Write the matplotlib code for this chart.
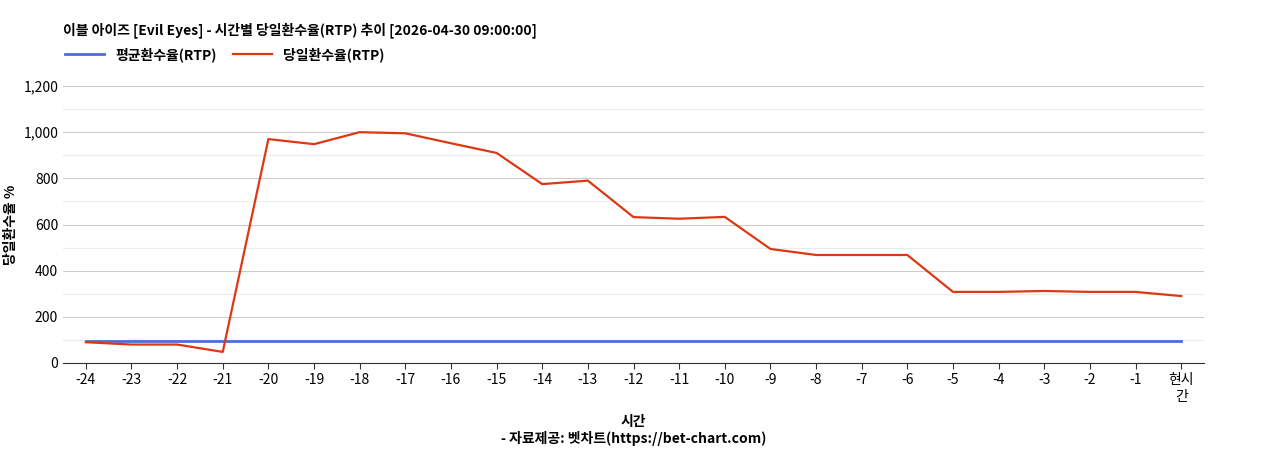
import matplotlib
matplotlib.use("Agg")
import matplotlib.pyplot as plt

plt.rcParams['font.family'] = ['Noto Sans CJK KR', 'DejaVu Sans']

labels = [str(i) for i in range(-24, 0)] + ['현시\n간']
avg_rtp = [95] * 25
daily_rtp = [90, 80, 80, 48, 970, 948, 1000, 995, 952, 910, 775, 790, 632, 625, 633,
             494, 468, 468, 468, 308, 308, 312, 308, 308, 290]

fig = plt.figure(figsize=(12.68, 4.5), dpi=100)
ax = fig.add_axes([63/1268, 1-363/450, (1204-63)/1268, (363-86)/450])
x = list(range(len(labels)))
ax.plot(x, avg_rtp, color='#4a6fd6', lw=2, label='평균환수율(RTP)')
ax.plot(x, daily_rtp, color='#dc3912', lw=1.6, label='당일환수율(RTP)')
ax.set_xlim(-0.5, len(labels)-0.5)
ax.set_ylim(0, 1200)
ax.set_yticks(range(0, 1201, 200))
ax.set_yticklabels([f'{v:,}' for v in range(0, 1201, 200)])
ax.set_yticks(range(100, 1200, 200), minor=True)
ax.grid(axis='y', which='major', color='#cccccc', lw=0.8)
ax.grid(axis='y', which='minor', color='#ebebeb', lw=0.8)
ax.set_axisbelow(True)
ax.set_xticks(x)
ax.set_xticklabels(labels, fontsize=10)
ax.tick_params(axis='y', which='both', labelsize=10, length=0)
ax.tick_params(axis='x', length=4, color='#333333')
for s in ['top', 'right', 'left']:
    ax.spines[s].set_visible(False)
ax.spines['bottom'].set_color('#333333')
ax.set_ylabel('당일환수율 %', fontsize=10, fontweight='bold')
ax.set_xlabel('시간\n- 자료제공: 벳차트(https://bet-chart.com)', fontsize=10, fontweight='bold', labelpad=8)
fig.text(63/1268, 1-30/450, '이블 아이즈 [Evil Eyes] - 시간별 당일환수율(RTP) 추이 [2026-04-30 09:00:00]',
         fontsize=10, fontweight='bold', va='center')
ax.legend(loc='center left', bbox_to_anchor=(-0.003, 1.113), ncol=2, frameon=False,
          prop={'weight': 'bold', 'size': 10}, handlelength=2.8, borderaxespad=0, columnspacing=1.2)
fig.savefig('out.png', dpi=100)
